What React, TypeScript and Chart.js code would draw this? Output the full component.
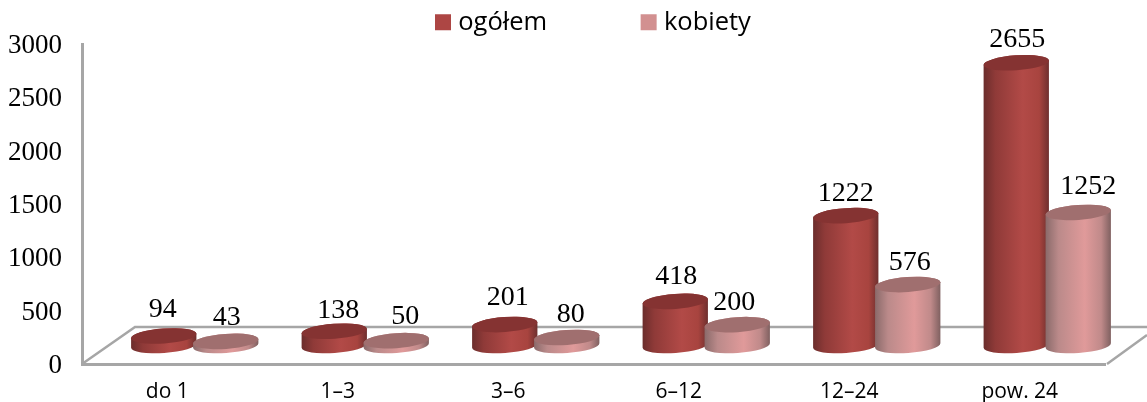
import React, { useEffect, useRef } from "react";
import { Chart, registerables } from "chart.js";

Chart.register(...registerables);

const categories = ["do 1", "1–3", "3–6", "6–12", "12–24", "pow. 24"];
const ogolem = [94, 138, 201, 418, 1222, 2655];
const kobiety = [43, 50, 80, 200, 576, 1252];
const yTicks = [0, 500, 1000, 1500, 2000, 2500, 3000];
const labelNudgeOgolem = [-1, 4, 3, 1, 0, 1];
const labelNudgeKobiety = [1, 9, 4, -3, 2, 10];
const labelLiftOgolem = [-3, 2, -4, -2, 1, 0];
const labelLiftKobiety = [-1, -1, 0, 1, 1, -3];

const SERIF = '"Liberation Serif"';
const SANS = '"Open Sans"';
const FRAME = "#a6a6a6";
const DX = 27.5;
const DY = -18;
const RY = 7.5;
const ROT = -0.07;

const looks = [
  {
    top: "#853332",
    stops: [[0, "#6b2d2c"], [0.18, "#8f3a38"], [0.6, "#b24a47"], [0.85, "#a8443f"], [1, "#6e2f2e"]],
    nudge: labelNudgeOgolem,
    lift: labelLiftOgolem,
    values: ogolem,
  },
  {
    top: "#a06f6f",
    stops: [[0, "#8a6a6a"], [0.2, "#bb8a8a"], [0.6, "#e09a9a"], [0.85, "#c08a8a"], [1, "#7f6060"]],
    nudge: labelNudgeKobiety,
    lift: labelLiftKobiety,
    values: kobiety,
  },
];

const cylinderPlugin = {
  id: "cylinders",
  afterLayout(chart: any) {
    const lg = chart.legend;
    if (!lg) return;
    const p = lg.options.labels.padding;
    lg.left = 440.5 - p;
    lg.top = 9.5 - p;
  },
  beforeDatasetsDraw(chart: any) {
    const { ctx, chartArea: a } = chart;
    // floor of the 3D box
    ctx.save();
    ctx.strokeStyle = FRAME;
    ctx.lineWidth = 2.5;
    ctx.beginPath();
    ctx.moveTo(a.left, a.bottom);
    ctx.lineTo(a.left + 53, a.bottom - 37);
    ctx.lineTo(chart.width, a.bottom - 37);
    ctx.moveTo(a.right + 2, a.bottom);
    ctx.lineTo(chart.width, a.bottom - 29);
    ctx.stroke();
    ctx.restore();

    const marks: any[] = [];
    looks.forEach((look, di) => {
      chart.getDatasetMeta(di).data.forEach((bar: any, i: number) => {
        const cx = bar.x + DX;
        const rx = (bar.width + 3.5) / 2;
        const top = bar.y + DY;
        const base = bar.base + DY;
        const g = ctx.createLinearGradient(cx - rx, 0, cx + rx, 0);
        look.stops.forEach(([o, c]: any) => g.addColorStop(o, c));
        ctx.fillStyle = g;
        ctx.beginPath();
        ctx.ellipse(cx, base, rx, RY, ROT, 0, Math.PI, false);
        ctx.ellipse(cx, top, rx, RY, ROT, Math.PI, 0, false);
        ctx.closePath();
        ctx.fill();
        ctx.fillStyle = look.top;
        ctx.beginPath();
        ctx.ellipse(cx, top, rx, RY, ROT, 0, Math.PI * 2);
        ctx.fill();
        marks.push({ x: cx + look.nudge[i], y: top - 23 + look.lift[i], text: String(look.values[i]) });
      });
    });
    ctx.save();
    ctx.font = `28px ${SERIF}`;
    ctx.fillStyle = "#000";
    ctx.textAlign = "center";
    ctx.textBaseline = "middle";
    marks.forEach((m) => ctx.fillText(m.text, m.x, m.y));
    ctx.restore();
    return false;
  },
};

export default function App() {
  const ref = useRef<HTMLCanvasElement>(null);
  useEffect(() => {
    document.body.style.margin = "0";
    const colors = ["#ad4644", "#d29090"];
    const chart = new Chart(ref.current as HTMLCanvasElement, {
      type: "bar",
      data: {
        labels: categories,
        datasets: [
          { label: "ogółem", data: ogolem, backgroundColor: colors[0] },
          { label: "kobiety", data: kobiety, backgroundColor: colors[1] },
        ],
      },
      plugins: [cylinderPlugin],
      options: {
        responsive: false,
        animation: false,
        layout: { padding: { right: 42, left: 0, top: 0, bottom: 0 } },
        datasets: { bar: { categoryPercentage: 0.727, barPercentage: 1 } },
        plugins: {
          tooltip: { enabled: false },
          legend: {
            position: "top",
            align: "start",
            maxHeight: 44,
            labels: {
              padding: 99,
              boxWidth: 5,
              boxHeight: 5,
              color: "#000",
              font: { family: SANS, size: 25.5 },
              generateLabels: () =>
                ["ogółem", "kobiety"].map((text, i) => ({
                  text,
                  fillStyle: colors[i],
                  strokeStyle: colors[i],
                  lineWidth: 11,
                  lineJoin: "miter",
                  datasetIndex: i,
                })),
            },
          },
        },
        scales: {
          x: {
            grid: { drawOnChartArea: false, drawTicks: false },
            border: { display: true, color: FRAME, width: 3 },
            ticks: { color: "#000", padding: 15, font: { family: SANS, size: 21 }, autoSkip: false, maxRotation: 0 },
            afterFit: (s: any) => { s.height = 38; },
          },
          y: {
            min: 0,
            max: 3000,
            afterBuildTicks: (s: any) => { s.ticks = yTicks.map((value) => ({ value })); },
            grid: { drawOnChartArea: false, drawTicks: false },
            border: { display: true, color: FRAME, width: 3 },
            ticks: { color: "#000", padding: 20, labelOffset: 2, font: { family: SERIF, size: 27 }, callback: (v: any) => String(v) },
            afterFit: (s: any) => { s.width = 82; },
          },
        },
      },
    } as any);
    return () => chart.destroy();
  }, []);
  return <canvas ref={ref} width={1147} height={402} style={{ display: "block" }} />;
}
